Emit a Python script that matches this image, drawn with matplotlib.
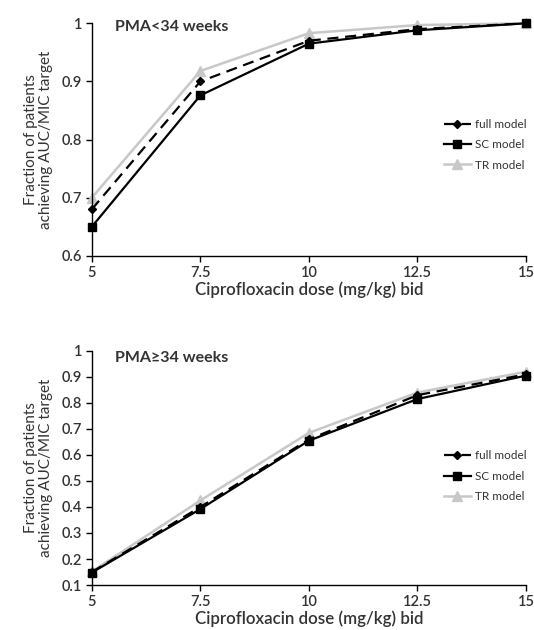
import matplotlib
matplotlib.use("Agg")
import matplotlib.pyplot as plt

plt.rcParams['font.family'] = ['Lato', 'DejaVu Sans']

doses = [5, 7.5, 10, 12.5, 15]
dose_labels = ['5', '7.5', '10', '12.5', '15']

# PMA < 34 weeks
top_full = [0.68, 0.90, 0.970, 0.990, 1.000]
top_sc = [0.65, 0.876, 0.965, 0.988, 1.000]
top_tr = [0.70, 0.918, 0.983, 0.997, 1.000]

# PMA >= 34 weeks
bot_full = [0.150, 0.400, 0.660, 0.830, 0.910]
bot_sc = [0.148, 0.392, 0.655, 0.815, 0.905]
bot_tr = [0.152, 0.425, 0.685, 0.840, 0.920]

top_yticks = [0.6, 0.7, 0.8, 0.9, 1.0]
top_ylabels = ['0.6', '0.7', '0.8', '0.9', '1']
bot_yticks = [0.1, 0.2, 0.3, 0.4, 0.5, 0.6, 0.7, 0.8, 0.9, 1.0]
bot_ylabels = ['0.1', '0.2', '0.3', '0.4', '0.5', '0.6', '0.7', '0.8', '0.9', '1']

txt = '#333333'
grey = '#c8c8c8'

fig = plt.figure(figsize=(5.34, 6.3), dpi=100)
ax1 = fig.add_axes([0.172, 0.594, 0.813, 0.369])
ax2 = fig.add_axes([0.172, 0.0714, 0.813, 0.3716])


def draw(ax, full, sc, tr, yt, yl, ylim, title, leg_y):
    ax.plot(doses, tr, color=grey, lw=1.8, marker='^', ms=7, mfc=grey, mec=grey,
            label='TR model', clip_on=False, zorder=2)
    ax.plot(doses, sc, color='black', lw=1.6, marker='s', ms=6,
            label='SC model', clip_on=False, zorder=3)
    ax.plot(doses, full, color='black', lw=1.6, ls=(0, (5, 3)), marker='D', ms=4,
            label='full model', clip_on=False, zorder=4)
    ax.set_xlim(5, 15)
    ax.set_ylim(*ylim)
    ax.set_xticks(doses)
    ax.set_xticklabels(dose_labels)
    ax.set_yticks(yt)
    ax.set_yticklabels(yl)
    for s in ['top', 'right']:
        ax.spines[s].set_visible(False)
    for s in ['left', 'bottom']:
        ax.spines[s].set_linewidth(1.0)
        ax.spines[s].set_color('black')
    ax.tick_params(direction='out', length=4, width=1, colors='black',
                   labelcolor=txt, labelsize=10.5, pad=3)
    for lab in ax.get_xticklabels() + ax.get_yticklabels():
        lab.set_fontweight('semibold')
    ax.set_xlabel('Ciprofloxacin dose (mg/kg) bid', fontsize=12.2, color=txt,
                  labelpad=1.5, fontweight='semibold')
    ax.set_ylabel('Fraction of patients\nachieving AUC/MIC target', fontsize=11,
                  color=txt, labelpad=6, linespacing=1.1)
    ax.text(0.053, leg_y[0], title, transform=ax.transAxes, fontsize=11.5,
            fontweight='bold', color=txt, va='center', ha='left')
    h, l = ax.get_legend_handles_labels()
    order = [2, 1, 0]
    leg = ax.legend([h[i] for i in order], [l[i] for i in order],
                    loc='upper left', bbox_to_anchor=(0.80, leg_y[1]),
                    frameon=False, fontsize=8.5, handlelength=2.3,
                    labelspacing=0.8, handletextpad=0.3, borderaxespad=0)
    for t in leg.get_texts():
        t.set_color(txt)


draw(ax1, top_full, top_sc, top_tr, top_yticks, top_ylabels, (0.6, 1.0),
     'PMA<34 weeks', (0.983, 0.61))
draw(ax2, bot_full, bot_sc, bot_tr, bot_yticks, bot_ylabels, (0.1, 1.0),
     'PMA\u226534 weeks', (0.97, 0.595))

fig.savefig('out.png', dpi=100)
